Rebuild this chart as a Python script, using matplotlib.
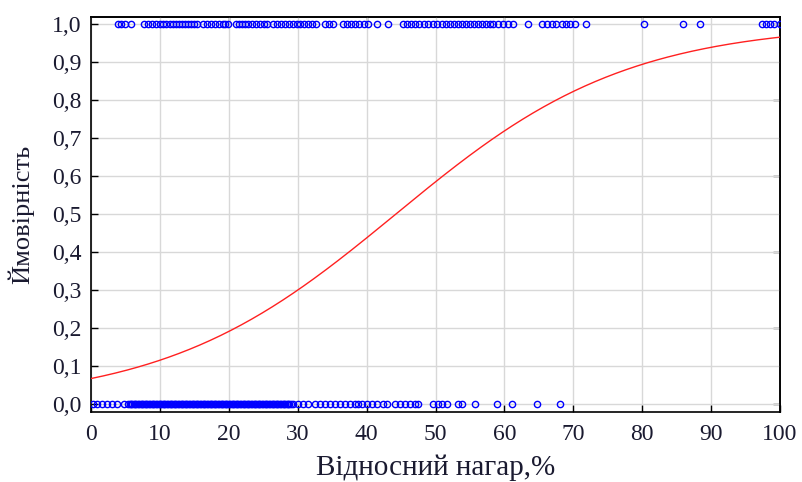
import matplotlib
matplotlib.use("Agg")
import matplotlib.pyplot as plt
import numpy as np
from matplotlib.ticker import FuncFormatter

# ---- data ----
x_label = "Відносний нагар,%"
y_label = "Ймовірність"
x_ticks = [0, 10, 20, 30, 40, 50, 60, 70, 80, 90, 100]
y_ticks = [0.0, 0.1, 0.2, 0.3, 0.4, 0.5, 0.6, 0.7, 0.8, 0.9, 1.0]
top_ticks = [20, 40, 60, 80]
right_ticks = [0.0, 0.2, 0.4, 0.6, 0.8, 1.0]

# observations with outcome = 1
x_pos = [3.9, 4.4, 4.9, 5.8,
         7.7, 8.3, 8.9, 9.4, 10.0, 10.5, 10.9, 11.5, 11.9, 12.3, 12.8, 13.2, 13.6, 14.1, 14.5, 14.9, 15.4,
         16.3, 16.8, 17.4, 18.0, 18.6, 19.2, 19.4, 19.9,
         21.0, 21.5, 21.9, 22.4, 22.8, 23.4, 23.9, 24.5, 25.1, 25.5,
         26.4, 27.0, 27.6, 28.2, 28.7, 29.3, 29.9,
         30.3, 30.9, 31.5, 32.1, 32.7,
         34.0, 34.5, 35.1,
         36.6, 37.2, 37.7, 38.3, 38.9, 39.6, 40.2,
         41.5, 43.1,
         45.3, 45.9, 46.4, 47.0, 47.6, 48.3, 48.9,
         49.6, 50.2, 50.9, 51.5, 52.1, 52.7, 53.3, 53.8, 54.4, 55.0, 55.6, 56.2, 56.7, 57.3, 57.9, 58.3,
         59.1, 59.8, 60.5, 61.2,
         63.4,
         65.5, 66.2, 66.9, 67.5,
         68.4, 68.9, 69.5, 70.2,
         71.8, 80.3, 85.9, 88.4,
         97.4, 98.0, 98.5, 99.1, 100.0]

# observations with outcome = 0
x_neg = [0.3, 0.9, 1.6, 2.3, 3.0, 3.8, 4.8,
         5.4, 5.6, 5.8, 6.0, 6.2, 6.4, 6.6, 6.8, 7.0, 7.2, 7.4, 7.6, 7.8, 8.0, 8.2, 8.4,
         8.6, 8.8, 9.0, 9.2, 9.4, 9.6, 9.8, 10.0, 10.2, 10.4, 10.6, 10.8, 11.0, 11.2,
         11.4, 11.6, 11.8, 12.0, 12.2, 12.4, 12.6, 12.8, 13.0, 13.2, 13.4, 13.6, 13.8,
         14.0, 14.2, 14.4, 14.6, 14.8, 15.0, 15.2, 15.4, 15.6, 15.8, 16.0, 16.2, 16.4,
         16.6, 16.8, 17.0, 17.2, 17.4, 17.6, 17.8, 18.0, 18.2, 18.4, 18.6, 18.8, 19.0,
         19.2, 19.4, 19.6, 19.8, 20.0, 20.2, 20.4, 20.6, 20.8, 21.0, 21.2, 21.4, 21.6,
         21.8, 22.0, 22.2, 22.4, 22.6, 22.8, 23.0, 23.2, 23.4, 23.6, 23.8, 24.0, 24.2,
         24.4, 24.6, 24.8, 25.0, 25.2, 25.4, 25.6, 25.8, 26.0, 26.2, 26.4, 26.6, 26.8,
         27.0, 27.2, 27.4, 27.6, 27.8, 28.0, 28.2, 28.4, 28.6, 28.8, 29.0, 29.3,
         30.0, 30.8, 31.5, 32.5, 33.2, 34.0, 34.7, 35.4, 36.1, 36.9, 37.6, 38.3, 38.8,
         39.3, 40.1, 40.8, 41.5, 42.4, 43.0, 44.1, 44.8, 45.6, 46.3, 47.0, 47.5,
         49.6, 50.4, 50.9, 51.6, 53.3, 53.8, 55.7, 58.9, 61.1, 64.7, 68.1]

# fitted logistic model coefficients
b0 = -2.634
b1 = 0.0595

# ---- plot ----
fig = plt.figure(figsize=(8.02, 4.82), dpi=100)
ax = fig.add_axes([91 / 802, 1 - 412 / 482, (780 - 91) / 802, (412 - 17) / 482])

serif = ["Liberation Serif", "DejaVu Serif"]
txt_color = "#1a1a30"

ax.grid(True, color="#d8d8d8", linewidth=1.0, zorder=0)
ax.set_axisbelow(True)

xs = np.linspace(0, 100, 400)
p = 1.0 / (1.0 + np.exp(-(b0 + b1 * xs)))
ax.plot(xs, p, color="#ff2020", linewidth=1.0, zorder=3)

ax.plot(x_pos, np.ones(len(x_pos)), linestyle="none", marker="o", markersize=4.5,
        markerfacecolor="none", markeredgecolor="#0000ff", markeredgewidth=1.0, zorder=4)
ax.plot(x_neg, np.zeros(len(x_neg)), linestyle="none", marker="o", markersize=4.5,
        markerfacecolor="none", markeredgecolor="#0000ff", markeredgewidth=1.0, zorder=4)

ax.set_xlim(0, 100)
ax.set_ylim(-0.021, 1.018)
ax.set_xticks(x_ticks)
ax.set_yticks(y_ticks)
ax.yaxis.set_major_formatter(FuncFormatter(lambda v, _: f"{v:.1f}".replace(".", ",")))

ax.tick_params(axis="both", direction="in", length=5, width=1.0, colors="black",
               labelcolor=txt_color, labelsize=17)
ax.tick_params(axis="x", pad=9)
ax.tick_params(axis="y", pad=7)
for lab in ax.get_xticklabels() + ax.get_yticklabels():
    lab.set_family(serif)

# secondary ticks on top and right edges
ax_top = ax.secondary_xaxis("top")
ax_top.set_xticks(top_ticks)
ax_top.tick_params(direction="in", length=5, width=1.0, labeltop=False)
ax_right = ax.secondary_yaxis("right")
ax_right.set_yticks(right_ticks)
ax_right.tick_params(direction="in", length=5, width=1.0, labelright=False)
for sec in (ax_top, ax_right):
    for s in sec.spines.values():
        s.set_linewidth(1.2)

for s in ax.spines.values():
    s.set_color("black")
    s.set_linewidth(1.2)

ax.set_xlabel(x_label, family=serif, fontsize=21, color=txt_color)
ax.xaxis.set_label_coords(0.5, -0.108)
ax.set_ylabel(y_label, family=serif, fontsize=19, color=txt_color, va="center")
ax.yaxis.set_label_coords(-0.102, 0.5)

fig.savefig("out.png", dpi=100)
